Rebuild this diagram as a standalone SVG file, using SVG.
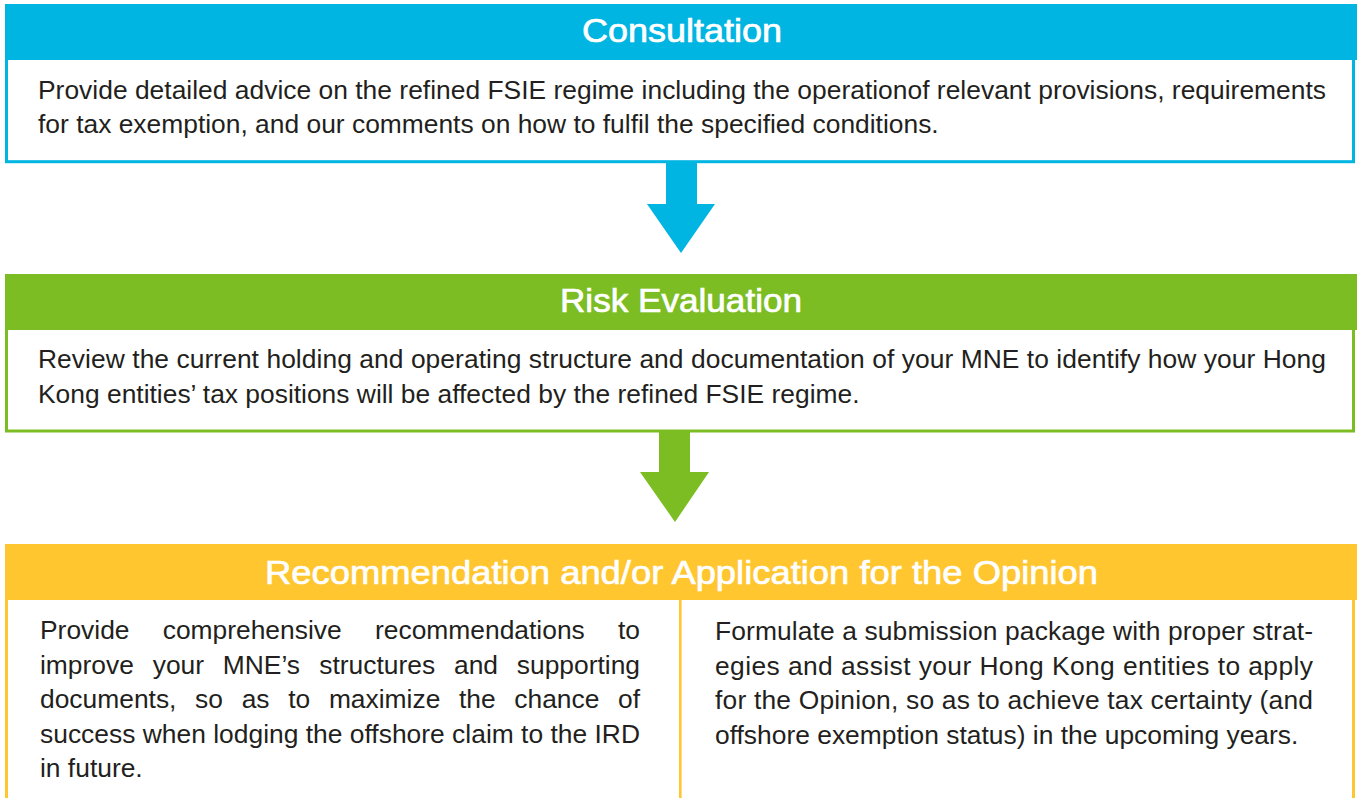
<svg xmlns="http://www.w3.org/2000/svg" width="1360" height="798" viewBox="0 0 1360 798">
<style>
.head{font-family:"Liberation Sans",Arial,sans-serif;font-size:33.5px;fill:#ffffff;stroke:#ffffff;stroke-width:0.7px;text-anchor:middle}
.body{font-family:"Liberation Sans",Arial,sans-serif;font-size:26.4px;fill:#231F20}
.blue{fill:#00B5E2}
.green{fill:#7CBD24}
.yellow{fill:#FFC62F}
</style>
<rect x="0" y="0" width="1360" height="798" fill="#ffffff"/>
<g id="consultation">
<rect x="6.5" y="5.5" width="1347" height="156.2" fill="#ffffff" stroke="#00B5E2" stroke-width="3"/>
<rect class="blue" x="5" y="4" width="1352" height="56"/>
<text class="head" x="682" y="42" textLength="200" lengthAdjust="spacingAndGlyphs">Consultation</text>
<text class="body" x="38" y="99" textLength="1288" lengthAdjust="spacing">Provide detailed advice on the refined FSIE regime including the operationof relevant provisions, requirements</text>
<text class="body" x="38" y="133">for tax exemption, and our comments on how to fulfil the specified conditions.</text>
</g>
<g id="risk-evaluation">
<rect x="6.5" y="275.5" width="1347" height="155.5" fill="#ffffff" stroke="#7CBD24" stroke-width="3"/>
<rect class="green" x="5" y="274" width="1352" height="56"/>
<text class="head" x="681" y="312" textLength="242" lengthAdjust="spacingAndGlyphs">Risk Evaluation</text>
<text class="body" x="38" y="368" textLength="1288" lengthAdjust="spacing">Review the current holding and operating structure and documentation of your MNE to identify how your Hong</text>
<text class="body" x="38" y="403">Kong entities’ tax positions will be affected by the refined FSIE regime.</text>
</g>
<g id="recommendation">
<path d="M6.5 545 V800 M1353.5 545 V800" fill="none" stroke="#FFC62F" stroke-width="3"/>
<rect class="yellow" x="5" y="544" width="1352" height="56"/>
<rect class="yellow" x="679" y="600" width="2.6" height="200"/>
<text class="head" x="681.5" y="584" textLength="833" lengthAdjust="spacingAndGlyphs">Recommendation and/or Application for the Opinion</text>
<text class="body" y="639"><tspan x="40">Provide</tspan><tspan x="162.7">comprehensive</tspan><tspan x="375">recommendations</tspan><tspan x="618">to</tspan></text>
<text class="body" y="673.5"><tspan x="40">improve</tspan><tspan x="152.7">your</tspan><tspan x="222.8">MNE’s</tspan><tspan x="319.3">structures</tspan><tspan x="454">and</tspan><tspan x="516.8">supporting</tspan></text>
<text class="body" y="708"><tspan x="40">documents,</tspan><tspan x="195.1">so</tspan><tspan x="241.7">as</tspan><tspan x="288.2">to</tspan><tspan x="328.9">maximize</tspan><tspan x="459">the</tspan><tspan x="514.3">chance</tspan><tspan x="618">of</tspan></text>
<text class="body" x="40" y="742.5" textLength="600" lengthAdjust="spacing">success when lodging the offshore claim to the IRD</text>
<text class="body" x="40" y="777">in future.</text>
<text class="body" x="715" y="640" textLength="598" lengthAdjust="spacing">Formulate a submission package with proper strat-</text>
<text class="body" x="715" y="674.5" textLength="598" lengthAdjust="spacing">egies and assist your Hong Kong entities to apply</text>
<text class="body" x="715" y="709" textLength="598" lengthAdjust="spacing">for the Opinion, so as to achieve tax certainty (and</text>
<text class="body" x="715" y="743.5">offshore exemption status) in the upcoming years.</text>
</g>
<g id="connectors">
<polygon class="blue" points="666,162 697,162 697,204 715,204 681,253 647,204 666,204"/>
<polygon class="green" points="659,431 690,431 690,472 709,472 675,522 640,472 659,472"/>
</g>
</svg>
